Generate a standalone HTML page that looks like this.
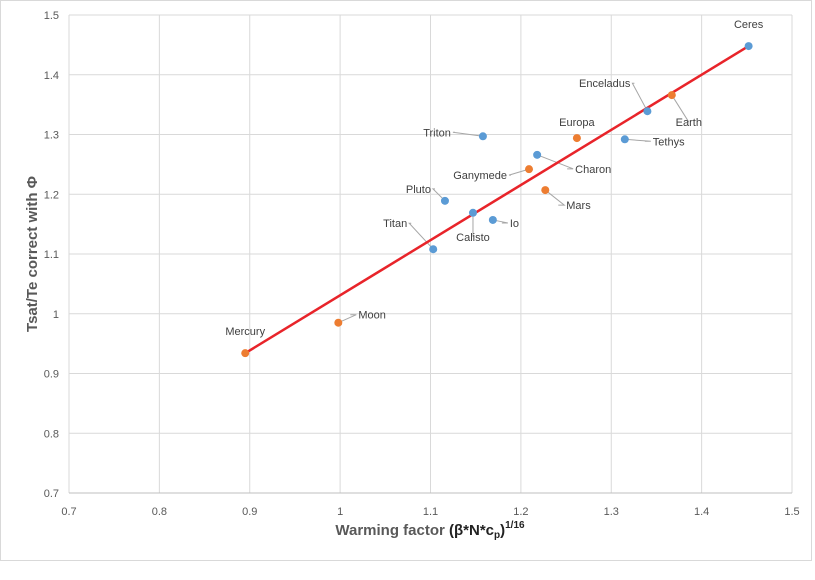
<!DOCTYPE html>
<html><head><meta charset="utf-8"><style>
body{margin:0;background:#fff;width:815px;height:575px;overflow:hidden;font-family:"Liberation Sans",sans-serif}
svg text{font-family:"Liberation Sans",sans-serif}
</style></head><body>
<svg id="chart" width="815" height="575" xmlns="http://www.w3.org/2000/svg">
<rect x="0.5" y="0.5" width="811" height="560" fill="#fff" stroke="#d9d9d9"/>
<g id="grid"></g><g id="ticks"></g><g id="labels"></g><g id="marks"></g>
<text transform="translate(37,254) rotate(-90)" text-anchor="middle" font-size="15" font-weight="bold" fill="#595959">Tsat/Te correct with Φ</text>
<text x="430" y="535" text-anchor="middle" font-size="15" font-weight="bold" fill="#595959">Warming factor  <tspan fill="#222">(β*N*c<tspan font-size="10" dy="3">p</tspan><tspan dy="-3">)</tspan><tspan font-size="10" dy="-7">1/16</tspan></tspan></text>
</svg>
<script>
const xTicks=[0.7,0.8,0.9,1,1.1,1.2,1.3,1.4,1.5];
const yTicks=[0.7,0.8,0.9,1,1.1,1.2,1.3,1.4,1.5];
const names=["Ceres","Enceladus","Earth","Europa","Tethys","Triton","Charon","Ganymede","Mars","Pluto","Calisto","Io","Titan","Moon","Mercury"];
const xVals=[1.452,1.340,1.367,1.262,1.315,1.158,1.218,1.209,1.227,1.116,1.147,1.169,1.103,0.998,0.895];
const yVals=[1.448,1.339,1.366,1.294,1.292,1.297,1.266,1.242,1.207,1.189,1.169,1.157,1.108,0.985,0.934];
const kinds=["b","b","o","o","b","b","b","o","o","b","b","b","b","o","o"];
const trendX=[0.895,1.452];
const trendY=[0.934,1.448];
// label offsets (px) : [dx,dy,anchor,leader]
const lbl={Ceres:[0,-18,"middle",0],Enceladus:[-15,-24,"end",1],Earth:[17,31,"middle",1],Europa:[0,-12,"middle",0],Tethys:[28,6,"start",1],Triton:[-30,0,"end",1],Charon:[38,18,"start",1],Ganymede:[-20,10,"end",1],Mars:[21,19,"start",1],Pluto:[-12,-8,"end",1],Calisto:[0,28,"middle",1],Io:[17,7,"start",1],Titan:[-24,-22,"end",1],Moon:[20,-4,"start",1],Mercury:[0,-18,"middle",0]};
const X0=69,X1=792,Y0=493,Y1=15;
const sx=v=>X0+(v-0.7)/0.8*(X1-X0);
const sy=v=>Y0-(v-0.7)/0.8*(Y0-Y1);
const NS="http://www.w3.org/2000/svg";
function mk(t,a,p){const e=document.createElementNS(NS,t);for(const k in a)e.setAttribute(k,a[k]);p.appendChild(e);return e;}
const grid=document.getElementById('grid'),ticks=document.getElementById('ticks'),labels=document.getElementById('labels'),marks=document.getElementById('marks');
xTicks.forEach(v=>{const l=mk('line',{x1:sx(v),x2:sx(v),y1:Y1,y2:Y0,stroke:'#d9d9d9'},grid);


const t=mk('text',{x:sx(v),y:Y0+22,'text-anchor':'middle','font-size':11,fill:'#595959'},ticks);t.textContent=v;

});
yTicks.forEach(v=>{const l=mk('line',{x1:X0,x2:X1,y1:sy(v),y2:sy(v),stroke:v===0.7?'#bfbfbf':'#d9d9d9'},grid);


const t=mk('text',{x:X0-10,y:sy(v)+4,'text-anchor':'end','font-size':11,fill:'#595959'},ticks);t.textContent=v;

});
names.forEach((n,i)=>{const px=sx(xVals[i]),py=sy(yVals[i]);const o=lbl[n];
const lx=px+o[0],ly=py+o[1];
if(o[3]){const ld=mk('polyline',{points:`${px},${py} ${lx+(o[2]==='end'?0:o[2]==='start'?-2:0)},${ly-4} ${o[2]==='end'?lx+2:o[2]==='start'?lx-8:lx},${ly-4}`,fill:'none',stroke:'#a6a6a6','stroke-width':1},labels);

}
const t=mk('text',{x:o[2]==='end'?lx-2:o[2]==='start'?lx:lx,y:ly,'text-anchor':o[2],'font-size':11,fill:'#404040'},labels);t.textContent=n;

});
const tl=mk('line',{x1:sx(trendX[0]),y1:sy(trendY[0]),x2:sx(trendX[1]),y2:sy(trendY[1]),stroke:'#e8242a','stroke-width':2.5},marks);


names.forEach((n,i)=>{const c=mk('circle',{cx:sx(xVals[i]),cy:sy(yVals[i]),r:4,fill:kinds[i]==='o'?'#ed7d31':'#5b9bd5'},marks);

});
</script>
</body></html>
